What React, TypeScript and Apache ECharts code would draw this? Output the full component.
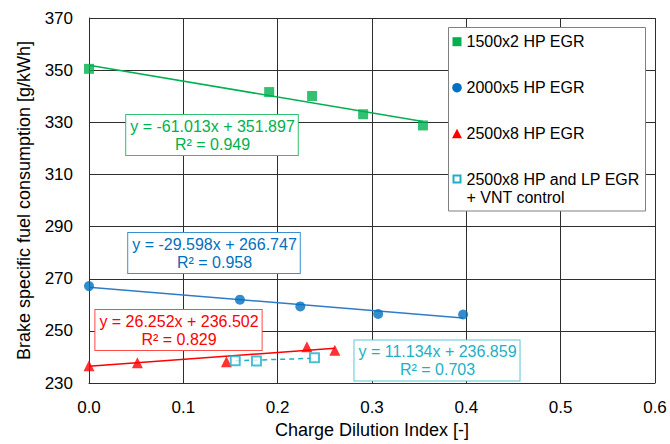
import React, { useEffect, useRef } from "react";
import * as echarts from "echarts";

// Operating points: charge dilution index vs. brake specific fuel consumption
const seriesNames = [
  "1500x2 HP EGR",
  "2000x5 HP EGR",
  "2500x8 HP EGR",
  "2500x8 HP and LP EGR",
];
const legendSecondLine = "+ VNT control";

const greenX = [0, 0.191, 0.2365, 0.2906, 0.354];
const greenY = [350.5, 341.6, 340.1, 333.1, 328.8];
const blueX = [0, 0.16, 0.224, 0.3065, 0.3966];
const blueY = [267.2, 262.0, 259.4, 256.5, 256.3];
const redX = [0, 0.0513, 0.1457, 0.231, 0.2606];
const redY = [236.7, 237.8, 238.2, 243.9, 242.6];
const cyanX = [0.155, 0.1775, 0.239];
const cyanY = [238.6, 238.5, 239.7];

// Linear trendline coefficients and coefficients of determination
const slopes = [-61.013, -29.598, 26.252, 11.134];
const intercepts = [351.897, 266.747, 236.502, 236.859];
const rSquared = [0.949, 0.958, 0.829, 0.703];

const xTicks = [0, 0.1, 0.2, 0.3, 0.4, 0.5, 0.6];
const yTicks = [230, 250, 270, 290, 310, 330, 350, 370];

const colors = ["#00b050", "#0070c0", "#ff0000", "#1cb0c8"];
const boxBorders = ["#33c070", "#3a8fd0", "#ff4a4a", "#5cc8dc"];
const FONT = "'Liberation Sans', Arial, sans-serif";

const zip = (xs: number[], ys: number[]) => xs.map((x, i) => [x, ys[i]]);
const fitLine = (k: number, xs: number[]) => {
  const x0 = Math.min(...xs);
  const x1 = Math.max(...xs);
  return [
    [x0, slopes[k] * x0 + intercepts[k]],
    [x1, slopes[k] * x1 + intercepts[k]],
  ];
};
const eqText = (k: number) => {
  const s = slopes[k] < 0 ? "-" + Math.abs(slopes[k]).toFixed(3) : slopes[k].toFixed(3);
  return `y = ${s}x + ${intercepts[k].toFixed(3)}\nR² = ${rSquared[k].toFixed(3)}`;
};

export default function App() {
  const ref = useRef<HTMLDivElement>(null);

  useEffect(() => {
    if (!ref.current) return;
    const chart = echarts.init(ref.current, null, { renderer: "svg" });

    const xsList = [greenX, blueX, redX, cyanX];
    const ysList = [greenY, blueY, redY, cyanY];
    const symbols = ["rect", "circle", "triangle", "rect"];
    const sizes = [10, 10, 11, 9];

    const scatterSeries = xsList.map((xs, k) => ({
      type: "scatter",
      name: seriesNames[k],
      data: zip(xs, ysList[k]),
      symbol: symbols[k],
      symbolSize: sizes[k],
      itemStyle:
        k === 3
          ? { color: "#ffffff", borderColor: colors[k], borderWidth: 2 }
          : { color: colors[k] },
      z: 5,
    }));

    const lineColors = ["#00b050", "#2f7cc6", "#ff0000", "#1cb0c8"];
    const trendSeries = xsList.map((xs, k) => ({
      type: "line",
      data: fitLine(k, xs),
      showSymbol: false,
      symbol: "none",
      silent: true,
      lineStyle: {
        color: lineColors[k],
        width: 1.5,
        type: k === 3 ? [5, 4] : "solid",
      },
      z: 4,
    }));

    // Equation boxes (centre positions in pixels)
    const eqCentres = [
      [212, 135],
      [214, 253],
      [178.5, 330],
      [437, 360.5],
    ];
    const eqGraphics = eqCentres.map((c, k) => ({
      type: "text",
      x: c[0],
      y: c[1],
      z: 50,
      style: {
        text: eqText(k),
        fill: colors[k],
        font: `16px ${FONT}`,
        align: "center",
        verticalAlign: "middle",
        lineHeight: 18,
        backgroundColor: "#ffffff",
        borderColor: boxBorders[k],
        borderWidth: 1,
        padding: [2, 3, 2, 4],
      },
    }));

    // Legend panel
    const lgX = 457;
    const lgRows = [41.7, 87.7, 133.7, 179];
    const legendGraphics: any[] = [
      {
        type: "rect",
        shape: { x: 448.5, y: 27.5, width: 197, height: 183.5 },
        style: { fill: "#ffffff", stroke: "#808080", lineWidth: 1 },
        z: 50,
      },
      {
        type: "rect",
        shape: { x: lgX - 4.5, y: lgRows[0] - 4.5, width: 9, height: 9 },
        style: { fill: colors[0] },
        z: 51,
      },
      {
        type: "circle",
        shape: { cx: lgX, cy: lgRows[1], r: 4.8 },
        style: { fill: colors[1] },
        z: 51,
      },
      {
        type: "polygon",
        shape: {
          points: [
            [lgX, lgRows[2] - 5],
            [lgX + 5, lgRows[2] + 4.5],
            [lgX - 5, lgRows[2] + 4.5],
          ],
        },
        style: { fill: colors[2] },
        z: 51,
      },
      {
        type: "rect",
        shape: { x: lgX - 3.5, y: lgRows[3] - 3.5, width: 7, height: 7 },
        style: { fill: "#ffffff", stroke: colors[3], lineWidth: 2 },
        z: 51,
      },
      ...seriesNames.map((n, k) => ({
        type: "text",
        x: 466.5,
        y: lgRows[k],
        z: 51,
        style: {
          text: n,
          fill: "#000000",
          font: `16px ${FONT}`,
          verticalAlign: "middle",
        },
      })),
      {
        type: "text",
        x: 466.5,
        y: 197.3,
        z: 51,
        style: {
          text: legendSecondLine,
          fill: "#000000",
          font: `16px ${FONT}`,
          verticalAlign: "middle",
        },
      },
    ];

    chart.setOption({
      animation: false,
      backgroundColor: "#ffffff",
      grid: { left: 89, top: 18, width: 566, height: 367 },
      xAxis: {
        type: "value",
        min: xTicks[0],
        max: xTicks[xTicks.length - 1],
        interval: 0.1,
        name: "Charge Dilution Index [-]",
        nameLocation: "middle",
        nameGap: 37,
        nameTextStyle: { fontFamily: FONT, fontSize: 18, color: "#000" },
        axisLine: { onZero: false, lineStyle: { color: "#2e2e2e", width: 1 } },
        axisTick: { show: false },
        axisLabel: {
          fontFamily: FONT,
          fontSize: 17,
          color: "#000",
          margin: 16,
          formatter: (v: number) => v.toFixed(1),
        },
        splitLine: { show: true, lineStyle: { color: "#2e2e2e", width: 1 } },
      },
      yAxis: {
        type: "value",
        min: yTicks[0],
        max: yTicks[yTicks.length - 1],
        interval: 20,
        name: "Brake specific fuel consumption [g/kWh]",
        nameLocation: "middle",
        nameGap: 56,
        nameTextStyle: { fontFamily: FONT, fontSize: 18, color: "#000" },
        axisLine: { show: true, lineStyle: { color: "#2e2e2e", width: 1 } },
        axisTick: { show: false },
        axisLabel: { fontFamily: FONT, fontSize: 17, color: "#000", margin: 16 },
        splitLine: { show: true, lineStyle: { color: "#2e2e2e", width: 1 } },
      },
      series: [...trendSeries, ...scatterSeries],
      graphic: [...eqGraphics, ...legendGraphics],
    } as any);

    return () => chart.dispose();
  }, []);

  return (
    <div
      ref={ref}
      style={{ position: "fixed", left: 0, top: 0, width: 670, height: 444 }}
    />
  );
}
